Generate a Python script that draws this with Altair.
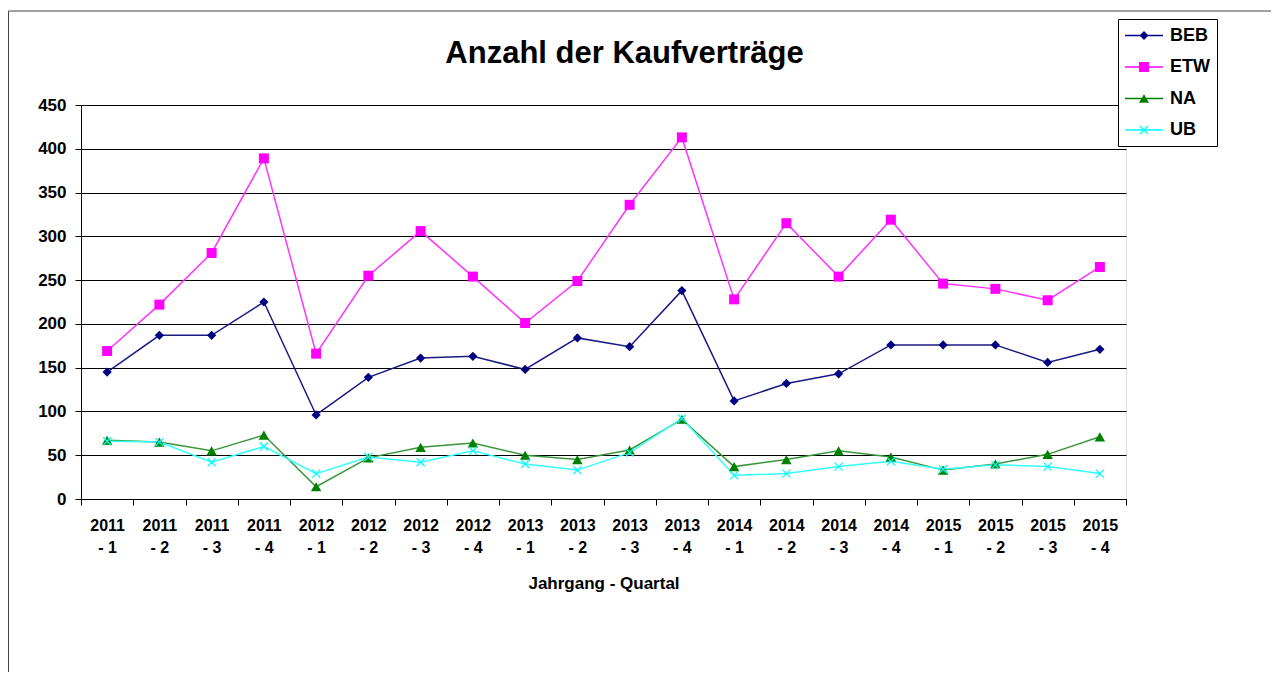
import altair as alt
import pandas as pd

categories = ["2011 - 1", "2011 - 2", "2011 - 3", "2011 - 4",
              "2012 - 1", "2012 - 2", "2012 - 3", "2012 - 4",
              "2013 - 1", "2013 - 2", "2013 - 3", "2013 - 4",
              "2014 - 1", "2014 - 2", "2014 - 3", "2014 - 4",
              "2015 - 1", "2015 - 2", "2015 - 3", "2015 - 4"]
beb = [145, 187, 187, 225, 96, 139, 161, 163, 148, 184, 174, 238, 112, 132, 143, 176, 176, 176, 156, 171]
etw = [169, 222, 281, 389, 166, 255, 306, 254, 201, 249, 336, 413, 228, 315, 254, 319, 246, 240, 227, 265]
na = [67, 65, 55, 73, 14, 47, 59, 64, 50, 45, 56, 91, 37, 45, 55, 48, 33, 40, 51, 71]
ub = [66, 65, 42, 60, 29, 48, 42, 55, 40, 33, 53, 92, 27, 29, 37, 43, 34, 39, 37, 29]
series_names = ["BEB", "ETW", "NA", "UB"]
y_ticks = [0, 50, 100, 150, 200, 250, 300, 350, 400, 450]

rows = []
for name, vals in zip(series_names, [beb, etw, na, ub]):
    for c, v in zip(categories, vals):
        rows.append({"cat": c, "series": name, "value": v})
df = pd.DataFrame(rows)

FONT = "Liberation Sans"
marker_colors = ["#000080", "#FF00FF", "#008000", "#00FFFF"]
line_colors = ["#1A1A85", "#FF33FF", "#3A963A", "#33FFFF"]

# plot markers
X_PATH = "M-1,-1L1,1M-1,1L1,-1"
marker_shapes = ["diamond", "square", "triangle-up", X_PATH]
marker_sizes = [85, 100, 110, 64]

# legend symbols: line + marker (filled paths)
LINE = "M-1,-0.08L3,-0.08L3,0.08L-1,0.08Z"
a, d = 0.42, 0.05
x_marker = (f"M{1-a+d},{-a-d}L{1+a+d},{a-d}L{1+a-d},{a+d}L{1-a-d},{-a+d}Z"
            f"M{1-a-d},{a-d}L{1+a-d},{-a-d}L{1+a+d},{-a+d}L{1-a+d},{a+d}Z")
legend_paths = [
    LINE + "M1,-0.47L1.47,0L1,0.47L0.53,0Z",
    LINE + "M0.47,-0.53L1.53,-0.53L1.53,0.53L0.47,0.53Z",
    LINE + "M1,-0.46L1.53,0.46L0.47,0.46Z",
    LINE + x_marker,
]

x_enc = alt.X(
    "cat:N", sort=categories,
    scale=alt.Scale(type="band", paddingInner=0, paddingOuter=0),
    axis=alt.Axis(
        title="Jahrgang - Quartal", tickBand="extent", labelAngle=0,
        labelExpr="[substring(datum.label,0,4), substring(datum.label,5)]",
        labelFont=FONT, labelFontSize=16, labelFontWeight="bold", labelColor="#000",
        labelLineHeight=22, labelPadding=12,
        titleFont=FONT, titleFontSize=17, titleFontWeight="bold", titleColor="#000",
        titlePadding=20,
        tickSize=6, tickColor="#000", domainColor="#000", grid=False,
    ),
)
y_enc = alt.Y(
    "value:Q",
    scale=alt.Scale(domain=[0, 450], nice=False),
    axis=alt.Axis(
        title=None, values=y_ticks, grid=True, gridColor="#000", gridWidth=1,
        labelFont=FONT, labelFontSize=17, labelFontWeight="bold", labelColor="#000",
        labelPadding=9, tickSize=6, tickColor="#000", domainColor="#000",
    ),
)

layers = []
for i, name in enumerate(series_names):
    sub = alt.Chart(df).transform_filter(alt.datum.series == name)
    layers.append(sub.mark_line(color=line_colors[i], strokeWidth=1.5).encode(x=x_enc, y=y_enc))
for i, name in enumerate(series_names):
    sub = alt.Chart(df).transform_filter(alt.datum.series == name)
    if i == 3:
        m = sub.mark_point(shape=marker_shapes[i], size=marker_sizes[i], filled=False,
                           color=marker_colors[i], strokeWidth=1.3, opacity=1)
    else:
        m = sub.mark_point(shape=marker_shapes[i], size=marker_sizes[i], filled=True,
                           color=marker_colors[i], opacity=1)
    layers.append(m.encode(x=x_enc, y=y_enc))

leg = alt.Legend(
    title=None, orient="none", legendX=1037, legendY=-86,
    symbolSize=361, symbolStrokeWidth=0, symbolOpacity=1,
    labelFont=FONT, labelFontSize=18, labelFontWeight="bold", labelColor="#000",
    labelOffset=26, rowPadding=12.5, padding=7,
    strokeColor="#000", fillColor="#fff",
)
legend_layer = alt.Chart(df).transform_filter("false").mark_point(filled=True, opacity=1).encode(
    fill=alt.Fill("series:N", scale=alt.Scale(domain=series_names, range=marker_colors), legend=leg),
    shape=alt.Shape("series:N", scale=alt.Scale(domain=series_names, range=legend_paths), legend=leg),
)
layers.append(legend_layer)

frame_df = pd.DataFrame({"k": [0]})
frame_left = alt.Chart(frame_df).mark_rule(color="#444", strokeWidth=1).encode(
    x=alt.value(-72.5), y=alt.value(-94), y2=alt.value(567))
frame_top = alt.Chart(frame_df).mark_rule(color="#444", strokeWidth=1).encode(
    x=alt.value(-72.5), x2=alt.value(1190), y=alt.value(-94))
layers += [frame_left, frame_top]

chart = alt.layer(*layers).properties(
    width=1045, height=394,
    title=alt.Title("Anzahl der Kaufverträge", font=FONT, fontSize=31, fontWeight="bold",
                    color="#000", anchor="middle", dx=21, dy=63),
    autosize=alt.AutoSizeParams(type="none"),
    padding={"left": 73, "top": 97, "right": 145, "bottom": 173},
).configure_view(stroke=None).configure(background="#fff")

chart.save("out.html", embed_options={"renderer": "svg", "actions": False})
